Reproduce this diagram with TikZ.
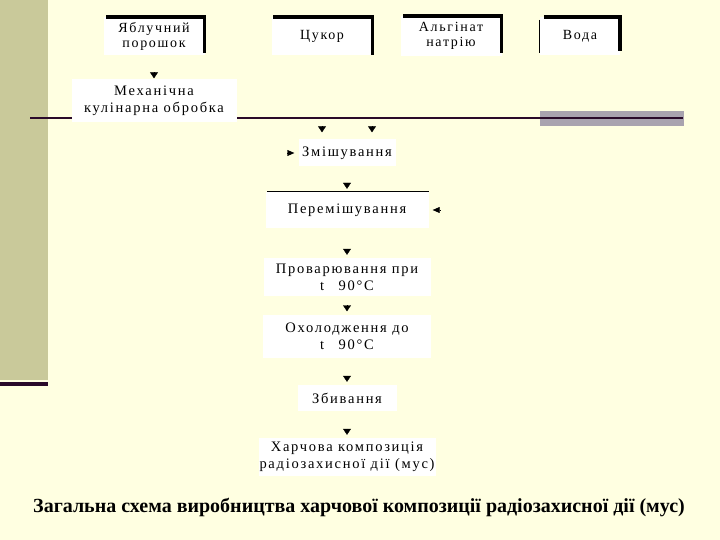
\documentclass[tikz,border=0pt]{standalone}
\usepackage{fontspec}
\setmainfont{Liberation Serif}
\newfontfamily\boxfont[LetterSpace=12]{Liberation Serif}
\usetikzlibrary{arrows.meta,positioning}

\definecolor{slidebg}{HTML}{FFFFE1}
\definecolor{stripe}{HTML}{C9C99A}
\definecolor{darkrule}{HTML}{2A0A2A}
\definecolor{greybar}{HTML}{A9A3AF}

\begin{document}
\begin{tikzpicture}[
                        x=1pt,
                        y=-1pt,
                        tip/.style={-{Triangle[length=6pt,width=8pt]}},
                        sidetip/.style={-{Triangle[length=7pt,width=6pt]}},
                        frame/.style={line width=3.5pt},
                        every node/.style={inner sep=0pt,align=center},
                        stepbox/.style={fill=white,font={\boxfont\fontsize{14.5}{17}\selectfont}},
                        ingred/.style={stepbox,minimum width=101pt,minimum height=38pt,font={\boxfont\fontsize{14}{15}\selectfont}}
                    ]
                    \fill[slidebg] (0,0) rectangle (720,540);
                    \useasboundingbox (0,0) rectangle (720,540);

                    % slide decoration
                    \fill[stripe]   (0,0)   rectangle (48,380);
                    \fill[darkrule] (0,382) rectangle (48,386);
                    \fill[greybar]  (540,111) rectangle (684,126);
                    \draw[darkrule,line width=2pt] (30,118) -- (683,118);

                    % ingredients
                    \node[ingred]                 (apple) at (154,36)                 {Яблучний\\порошок} ;
                    \node[ingred]                 (sugar) [right of=apple,node distance=168pt] {Цукор} ;
                    \node[ingred,minimum height=40pt] (alg) [right of=sugar,node distance=129pt] {Альгінат\\натрію} ;
                    \node[ingred,minimum width=80pt] (water) [right of=alg,node distance=129pt] {Вода} ;

                    \draw[frame] ([xshift=3pt]apple.north west) -- (apple.north east) -- ([yshift=2pt]apple.south east);
                    \draw[frame] ([xshift=2pt]sugar.north west) -- (sugar.north east) -- (sugar.south east);
                    \draw[frame] ([xshift=3pt]alg.north west) -- (alg.north east) -- ([yshift=3pt]alg.south east);
                    \draw[frame] ([xshift=4pt]water.north west) -- (water.north east) -- ([yshift=4pt]water.south east);
                    \draw[line width=1pt] ([yshift=-3pt]water.north west) -- ([yshift=2pt]water.south west);

                    % process
                    \node[stepbox,minimum width=165pt,minimum height=43pt] (mech) [below of=apple,node distance=65pt] {Механічна\\кулінарна обробка} ;
                    \node[stepbox,minimum width=97pt,minimum height=27pt]  (mix)   at (347,153)                    {Змішування} ;
                    \node[stepbox,minimum width=163pt,minimum height=36pt] (stir)  [below of=mix,node distance=57pt]   {Перемішування} ;
                    \node[stepbox,minimum width=167pt,minimum height=38pt] (boil)  [below of=stir,node distance=67pt]  {Проварювання при\\t\quad 90°C} ;
                    \node[stepbox,minimum width=168pt,minimum height=43pt] (cool)  [below of=boil,node distance=59pt]  {Охолодження до\\t\quad 90°C} ;
                    \node[stepbox,minimum width=99pt,minimum height=26pt]  (whip)  [below of=cool,node distance=62pt]  {Збивання} ;
                    \node[stepbox,minimum width=177pt,minimum height=38pt] (mousse) [below of=whip,node distance=59pt] {Харчова композиція\\радіозахисної дії (мус)} ;

                    \draw[line width=1.2pt] ([xshift=2pt]stir.north west) -- (stir.north east);

                    % arrow heads
                    \draw[tip,shorten >=1pt] ([yshift=7pt]mech.north) -- (mech.north);
                    \draw[tip,shorten >=7pt] ([xshift=-25pt,yshift=13pt]mix.north) -- ([xshift=-25pt]mix.north);
                    \draw[tip,shorten >=7pt] ([xshift=25pt,yshift=13pt]mix.north) -- ([xshift=25pt]mix.north);
                    \draw[sidetip,shorten >=4pt] ([xshift=-11pt]mix.west) -- (mix.west);
                    \draw[sidetip,shorten >=4pt] ([xshift=11pt]stir.east) -- (stir.east);
                    \foreach \from/\to in {mix/stir,stir/boil,boil/cool,cool/whip,whip/mousse}
                        \draw[tip,shorten >=3pt] ([yshift=9pt]\to.north) -- (\to.north);

                    % caption
                    \node[font=\bfseries\fontsize{20}{24}\selectfont] (title) at (359,507)
                        {Загальна схема виробництва харчової композиції радіозахисної дії (мус)} ;
                \end{tikzpicture}
\end{document}
